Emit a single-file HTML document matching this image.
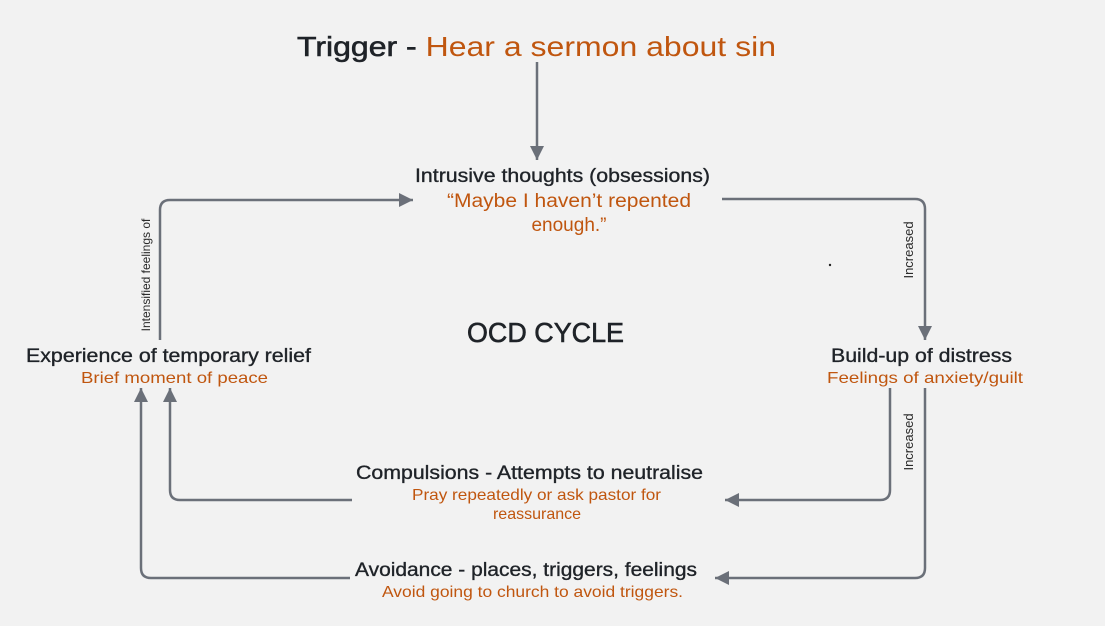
<!DOCTYPE html>
<html><head><style>
html,body{margin:0;padding:0;background:#f2f2f2;}
svg{display:block;font-family:"Liberation Sans",sans-serif;}
.t{fill:#1f2328;font-size:19px;stroke:#1f2328;stroke-width:0.35px;}
.o{fill:#c0560f;font-size:16px;}
.l{fill:#2a2a2a;font-size:12px;}
</style></head><body>
<svg width="1105" height="626" viewBox="0 0 1105 626">
<defs><marker id="b" markerWidth="16" markerHeight="16" refX="14" refY="7" orient="auto" markerUnits="userSpaceOnUse"><path d="M0,0 L14,7 L0,14z" fill="#6b7079"/></marker></defs>
<g fill="none" stroke="#6b7079" stroke-width="2.5">
<path d="M537 62 V160" marker-end="url(#b)"/>
<path d="M160 340 V210 Q160 200 170 200 H413" marker-end="url(#b)"/>
<path d="M722 199 H915 Q925 199 925 209 V340" marker-end="url(#b)"/>
<path d="M890 388 V490 Q890 500 880 500 H725" marker-end="url(#b)"/>
<path d="M925 388 V568 Q925 578 915 578 H715" marker-end="url(#b)"/>
<path d="M352 500 H180 Q170 500 170 490 V388" marker-end="url(#b)"/>
<path d="M350 578 H151 Q141 578 141 568 V388" marker-end="url(#b)"/>
</g>
<text x="297" y="56" font-size="28" fill="#1f2328" textLength="479" lengthAdjust="spacingAndGlyphs"><tspan stroke="#1f2328" stroke-width="0.6">Trigger - </tspan><tspan fill="#c0560f">Hear a sermon about sin</tspan></text>
<text x="415" y="182" class="t" textLength="295" lengthAdjust="spacingAndGlyphs">Intrusive thoughts (obsessions)</text>
<text x="447" y="207" class="o" style="font-size:19px" textLength="244" lengthAdjust="spacingAndGlyphs">“Maybe I haven’t repented</text>
<text x="569" y="231" class="o" style="font-size:19px" text-anchor="middle">enough.”</text>
<text x="467" y="342" font-size="28" fill="#1f2328" stroke="#1f2328" stroke-width="0.6" textLength="157" lengthAdjust="spacingAndGlyphs">OCD CYCLE</text>
<text x="26" y="362" class="t" textLength="285" lengthAdjust="spacingAndGlyphs">Experience of temporary relief</text>
<text x="81" y="383" class="o" textLength="187" lengthAdjust="spacingAndGlyphs">Brief moment of peace</text>
<text x="831" y="362" class="t" textLength="181" lengthAdjust="spacingAndGlyphs">Build-up of distress</text>
<text x="827" y="383" class="o" textLength="196" lengthAdjust="spacingAndGlyphs">Feelings of anxiety/guilt</text>
<text x="356" y="479" class="t" textLength="347" lengthAdjust="spacingAndGlyphs">Compulsions - Attempts to neutralise</text>
<text x="412" y="500" class="o" textLength="249" lengthAdjust="spacingAndGlyphs">Pray repeatedly or ask pastor for</text>
<text x="537" y="519" class="o" text-anchor="middle">reassurance</text>
<text x="355" y="576" class="t" textLength="342" lengthAdjust="spacingAndGlyphs">Avoidance - places, triggers, feelings</text>
<text x="382" y="597" class="o" textLength="301" lengthAdjust="spacingAndGlyphs">Avoid going to church to avoid triggers.</text>
<text class="l" transform="translate(150,275) rotate(-90)" text-anchor="middle">Intensified feelings of</text>
<text class="l" transform="translate(913,250) rotate(-90)" text-anchor="middle" style="font-size:13px">Increased</text>
<text class="l" transform="translate(913,442) rotate(-90)" text-anchor="middle" style="font-size:13px">Increased</text>
<circle cx="830" cy="265" r="1.2" fill="#222"/>
</svg>
</body></html>
